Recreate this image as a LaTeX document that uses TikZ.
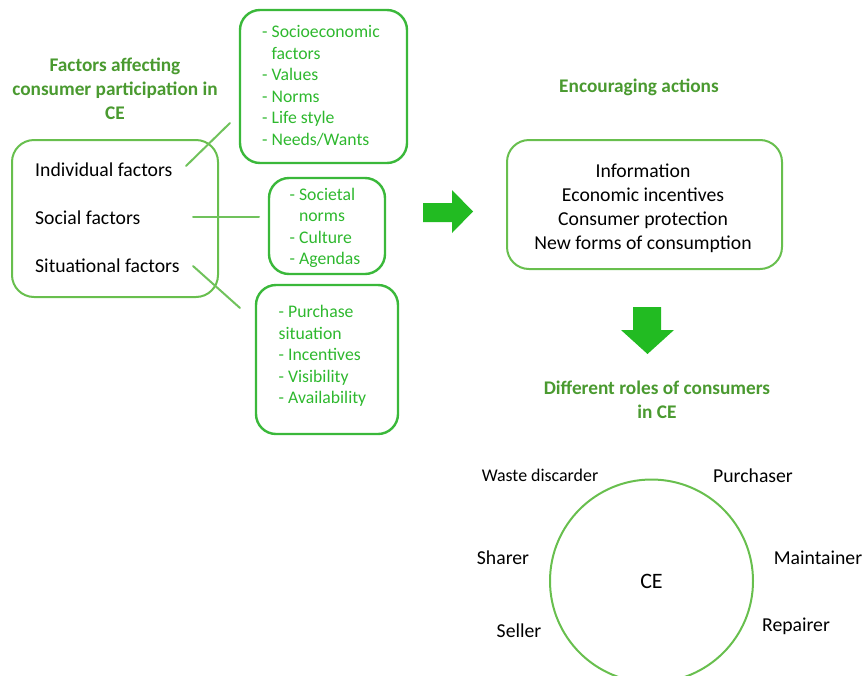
\documentclass[tikz,border=0pt]{standalone}
\usepackage{fontspec}
\setmainfont{Carlito}
\usetikzlibrary{positioning}
\definecolor{headColor}{RGB}{74,154,48}
\definecolor{penColor}{RGB}{104,191,78}
\definecolor{penColor2}{RGB}{58,184,58}
\definecolor{itemColor}{RGB}{46,184,46}
\definecolor{linkColor}{RGB}{112,194,92}
\definecolor{arrowColor}{RGB}{34,187,34}
\tikzset{
  bigbox/.style={draw=penColor,line width=2pt,rounded corners=22pt,inner sep=0pt},
  itembox/.style={draw=penColor2,line width=2.4pt,rounded corners=20pt,inner sep=0pt},
  itemtext/.style={text=itemColor,align=left,inner sep=0pt,
    font=\fontsize{17.7}{21.5}\selectfont},
  heading/.style={text=headColor,align=center,inner sep=0pt,
    font=\bfseries\fontsize{19.3}{24}\selectfont},
  plain/.style={align=center,inner sep=0pt,font=\fontsize{19.7}{24}\selectfont},
  link/.style={linkColor,line width=2pt},
}

\begin{document}
\begin{tikzpicture}[x=1pt,y=-1pt,line cap=round]

  \useasboundingbox (0,0) rectangle (864,675);

  % factors
  \node[heading] (facthead) at (115,88.5)
    {Factors affecting\\consumer participation in\\CE};
  \node[bigbox,minimum width=206pt,minimum height=157pt] (factbox) at (115,218.5) {};
  \node[plain,anchor=base west] (ind) at (35,176) {Individual factors};
  \node[plain,anchor=base west] (soc) at (35,224) {Social factors};
  \node[plain,anchor=base west] (sit) at (35,272.5) {Situational factors};

  % item boxes
  \node[itembox,minimum width=167pt,minimum height=153pt] (indbox) at (323.5,86.5) {};
  \node[itemtext] (indlist) at (321,86)
    {- Socioeconomic\\\phantom{- }factors\\- Values\\- Norms\\- Life style\\- Needs/Wants};
  \node[itembox,minimum width=116pt,minimum height=96pt] (socbox) at (327,226) {};
  \node[itemtext] (soclist) at (325,228)
    {- Societal\\\phantom{- }norms\\- Culture\\- Agendas};
  \node[itembox,minimum width=142pt,minimum height=149pt] (sitbox) at (327,359.5) {};
  \node[itemtext] (sitlist) at (322.5,356)
    {- Purchase\\situation\\- Incentives\\- Visibility\\- Availability};

  % links
  \coordinate (indA) at (186,166);
  \coordinate (indB) at (230,123);
  \coordinate (socA) at (193,217);
  \coordinate (socB) at (259,217);
  \coordinate (sitA) at (193,266);
  \coordinate (sitB) at (240,308);
  \draw[link] (indA) -- (indB);
  \draw[link] (socA) -- (socB);
  \draw[link] (sitA) -- (sitB);

  % block arrows
  \fill[arrowColor] (423,203) -- (452,203) -- (452,190) -- (473,211.5)
    -- (452,233) -- (452,222) -- (423,222) -- cycle;
  \fill[arrowColor] (633,307) -- (661,307) -- (661,330) -- (674,330)
    -- (647.5,354) -- (621,330) -- (633,330) -- cycle;

  % actions
  \node[heading] (acthead) at (639,87) {Encouraging actions};
  \node[bigbox,minimum width=275pt,minimum height=129pt] (actbox) at (644.5,204.5) {};
  \node[plain] (actlist) at (643,208.5)
    {Information\\Economic incentives\\Consumer protection\\New forms of consumption};

  % roles
  \node[heading] (rolehead) at (657,400) {Different roles of consumers\\in CE};
  \node[circle,draw=penColor,line width=2pt,minimum size=203pt,inner sep=0pt,
    font=\fontsize{22}{26}\selectfont] (ce) at (651.5,581) {CE};
  \node[plain,font=\fontsize{17.9}{20}\selectfont] (waste) at (540,475) {Waste discarder};
  \node[plain] (purch) at (753,476) {Purchaser};
  \node[plain] (share) at (503,558) {Sharer};
  \node[plain] (maint) at (818,558) {Maintainer};
  \node[plain] (sell) at (519,631) {Seller};
  \node[plain] (repair) at (796,626) {Repairer};

\end{tikzpicture}
\end{document}
